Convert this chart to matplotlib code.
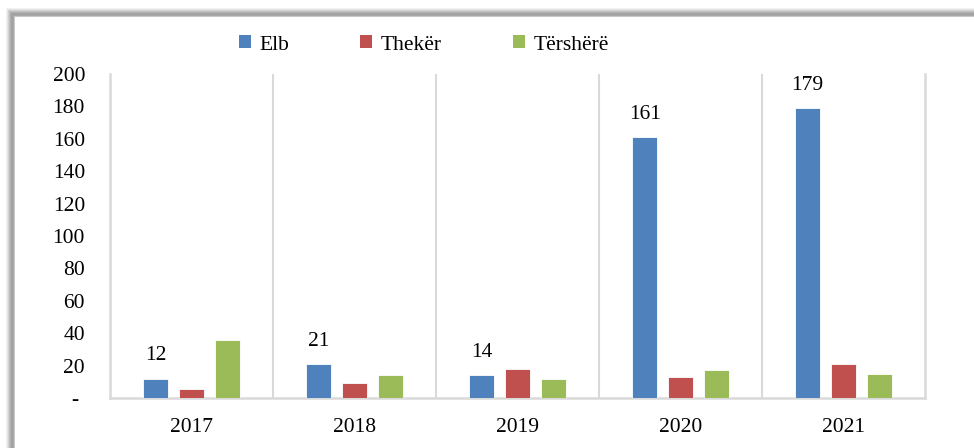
import matplotlib
matplotlib.use("Agg")
import matplotlib.pyplot as plt
import numpy as np
from matplotlib.patches import Rectangle

years = ["2017", "2018", "2019", "2020", "2021"]
series_names = ["Elb", "Thekër", "Tërshërë"]
elb = [12, 21, 14, 161, 179]
theker = [5.5, 9, 18, 13, 21]
tershere = [36, 14, 11.5, 17, 15]
elb_labels = ["12", "21", "14", "161", "179"]
yticks = [0, 20, 40, 60, 80, 100, 120, 140, 160, 180, 200]
ytick_labels = ["- ", "20", "40", "60", "80", "100", "120", "140", "160", "180", "200"]
colors = ["#4F81BD", "#C0504D", "#9BBB59"]

plt.rcParams['font.family'] = ['Liberation Serif', 'DejaVu Serif']
FS = 15.5

W, H = 974, 448
fig = plt.figure(figsize=(W / 100, H / 100), dpi=100)
fig.patch.set_facecolor("white")

# frame shadow (top and left)
def px_rect(x0, y0, w, h, color):
    fig.add_artist(Rectangle((x0 / W, 1 - (y0 + h) / H), w / W, h / H,
                             transform=fig.transFigure, facecolor=color,
                             edgecolor="none", zorder=0))

grays = ["#f2f2f2", "#e4e4e4", "#d2d2d2", "#c0c0c0", "#b0b0b0", "#a4a4a4",
         "#a0a0a0", "#a8a8a8", "#c8c8c8"]
for i, g in enumerate(grays):
    px_rect(6 + i, 8 + i, W - 6 - i, 1, g)
    px_rect(6 + i, 8 + i, 1, H - 8 - i, g)

left, right = 110 / W, 925 / W
bottom, top = 1 - 398 / H, 1 - 74 / H
ax = fig.add_axes([left, bottom, right - left, top - bottom])

x = np.arange(len(years))
bw = 0.153
off = 0.22
data = [elb, theker, tershere]
for i, (vals, c) in enumerate(zip(data, colors)):
    ax.bar(x + (i - 1) * off, vals, width=bw, color=c, edgecolor="white",
           linewidth=0.6, zorder=3, label=series_names[i])

for xi, v, lab in zip(x, elb, elb_labels):
    ax.annotate(lab, (xi - off, v), xytext=(0, 9.5), textcoords="offset points",
                ha="center", va="bottom", fontsize=FS, color="#000000")

ax.set_xlim(-0.5, len(years) - 0.5)
ax.set_ylim(0, 200)
ax.set_yticks(yticks)
ax.set_yticklabels(ytick_labels, fontsize=FS)
ax.set_xticks(x)
ax.set_xticklabels(years, fontsize=FS)
ax.tick_params(axis="both", length=0)
ax.tick_params(axis="y", pad=18)
ax.tick_params(axis="x", pad=14.5)

ax.set_xticks(np.arange(0.5, len(years) - 0.5, 1), minor=True)
ax.tick_params(axis="x", which="minor", length=0)
ax.grid(axis="x", which="minor", color="#D9D9D9", linewidth=1.5, zorder=1)
ax.grid(axis="x", which="major", visible=False)
ax.grid(axis="y", visible=False)

for s in ["left", "right", "bottom"]:
    ax.spines[s].set_color("#D9D9D9")
    ax.spines[s].set_linewidth(1.8)
ax.spines["top"].set_visible(False)

handles = [Rectangle((0, 0), 1, 1, facecolor=c, edgecolor="none") for c in colors]
fig.legend(handles, series_names, ncol=3, loc="center left",
           bbox_to_anchor=(239 / W, 1 - 45 / H), frameon=False, fontsize=FS,
           handlelength=0.55, handleheight=0.55, handletextpad=0.4,
           columnspacing=3.3, borderaxespad=0, borderpad=0)

fig.savefig("out.png", dpi=100, facecolor="white")
